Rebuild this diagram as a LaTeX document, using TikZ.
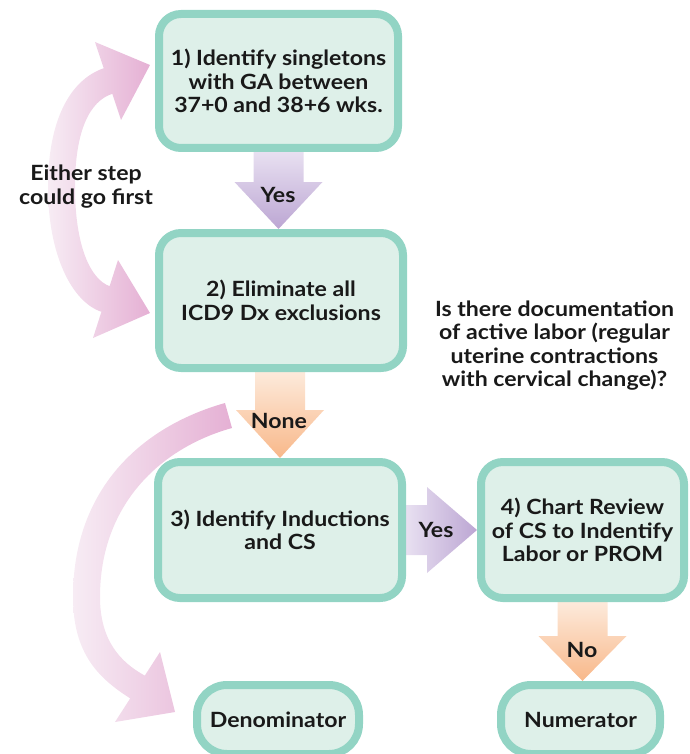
\documentclass[tikz,border=0pt]{standalone}
\usepackage{fontspec}
\setmainfont{Lato}[FakeStretch=1.1]
\usetikzlibrary{calc}
\definecolor{tealB}{RGB}{146,212,196}
\definecolor{boxF}{RGB}{222,240,233}
\definecolor{purL}{RGB}{232,224,241}
\definecolor{purD}{RGB}{188,166,211}
\definecolor{orL}{RGB}{253,234,219}
\definecolor{orD}{RGB}{248,184,138}
\definecolor{pinkL}{RGB}{247,236,244}
\definecolor{pinkD}{RGB}{229,176,212}
\pgfdeclarelayer{bg}
\pgfsetlayers{bg,main}
\begin{document}
\begin{tikzpicture}[x=1pt,y=-1pt,
  txt/.style={font=\fontsize{21}{23.5}\selectfont\bfseries, text=black!90},
  box/.style={txt, draw=tealB, line width=8pt, fill=boxF, rounded corners=22pt,
    outer sep=4pt, inner sep=0pt, align=center},
  pill/.style={box, rounded corners=30pt},
  lbl/.style={txt, inner sep=0pt, align=center},
  purpV/.style={top color=purL, bottom color=purD},
  purpH/.style={left color=purL, right color=purD},
  orV/.style={top color=orL, bottom color=orD},
  pinkH/.style={left color=pinkL, right color=pinkD},
]
\useasboundingbox (0,0) rectangle (689,754);

% boxes
\node[box, minimum width=239pt, minimum height=134pt] (b1) at (278.5,81)
  {1) Identify singletons\\with GA between\\37+0 and 38+6 wks.};
\node[box, minimum width=244pt, minimum height=135pt] (b2) at (281,300.5)
  {2) Eliminate all\\ICD9 Dx exclusions};
\node[box, minimum width=244pt, minimum height=136pt] (b3) at (280,530)
  {3) Identify Inductions\\and CS};
\node[box, minimum width=203pt, minimum height=136pt] (b4) at (582.5,530)
  {4) Chart Review\\of CS to Indentify\\Labor or PROM};
\node[pill, minimum width=162pt, minimum height=69pt] (den) at (278,719.5) {Denominator};
\node[pill, minimum width=159pt, minimum height=69pt] (num) at (580.5,719.5) {Numerator};

% free texts
\node[lbl] (either) at (86,186.5) {Either step\\could go first};
\node[lbl] (quest) at (554.5,345.5) {Is there documentation\\of active labor (regular\\uterine contractions\\with cervical change)?};

% block arrow end points
\coordinate (a1s) at (b1.south);
\coordinate (a1e) at (b1.south |- b2.north);
\coordinate (a2s) at (b3.north |- b2.south);
\coordinate (a2e) at (b3.north);
\coordinate (a3s) at (b3.east);
\coordinate (a3e) at (b3.east -| b4.west);
\coordinate (a4s) at (b4.south);
\coordinate (a4e) at (b4.south |- num.north);

\begin{pgfonlayer}{bg}
\path[purpV] ($(a1s)+(-25,0)$) -- ($(a1s)+(25,0)$) -- ($(a1e)+(25,-47)$) -- ($(a1e)+(44,-47)$)
  -- (a1e) -- ($(a1e)+(-44,-47)$) -- ($(a1e)+(-25,-47)$) -- cycle;
\path[orV] ($(a2s)+(-25,0)$) -- ($(a2s)+(25,0)$) -- ($(a2e)+(25,-48)$) -- ($(a2e)+(44,-48)$)
  -- (a2e) -- ($(a2e)+(-44,-48)$) -- ($(a2e)+(-25,-48)$) -- cycle;
\path[purpH] ($(a3s)+(0,-25)$) -- ($(a3s)+(0,25)$) -- ($(a3e)+(-50,25)$) -- ($(a3e)+(-50,43)$)
  -- (a3e) -- ($(a3e)+(-50,-43)$) -- ($(a3e)+(-50,-25)$) -- cycle;
\path[orV] ($(a4s)+(-25,0)$) -- ($(a4s)+(25,0)$) -- ($(a4e)+(25,-45)$) -- ($(a4e)+(44,-45)$)
  -- (a4e) -- ($(a4e)+(-44,-45)$) -- ($(a4e)+(-25,-45)$) -- cycle;

% curved double arrow (either step could go first)
\path[pinkH] (95,42) -- (150,65) -- (121,120) -- (112.3,93.8)
  .. controls (90,101) and (75,130) .. (75,187)
  .. controls (75,245) and (90,279) .. (109.6,286.2)
  -- (118,260) -- (150,313) -- (93,338) -- (101.4,311.8)
  .. controls (72,302) and (48,255) .. (48,187)
  .. controls (48,120) and (70,80) .. (103.7,68.2) -- cycle;

% curved arrow to denominator
\path[pinkH] (232,428) -- (225,403)
  .. controls (140,427) and (73,490) .. (73,597)
  .. controls (73,655) and (100,679) .. (130.2,698.4)
  -- (115,722) -- (175,712) -- (160,652) -- (144.8,675.6)
  .. controls (120,662) and (100,640) .. (100,597)
  .. controls (100,505) and (160,448) .. (232,428) -- cycle;
\end{pgfonlayer}

% arrow labels
\node[lbl, anchor=base] (yes1) at (278,202) {Yes};
\node[lbl, anchor=base] (none) at (279,428) {None};
\node[lbl, anchor=base] (yes2) at (436,537) {Yes};
\node[lbl, anchor=base] (no) at (582,657) {No};
\end{tikzpicture}
\end{document}
